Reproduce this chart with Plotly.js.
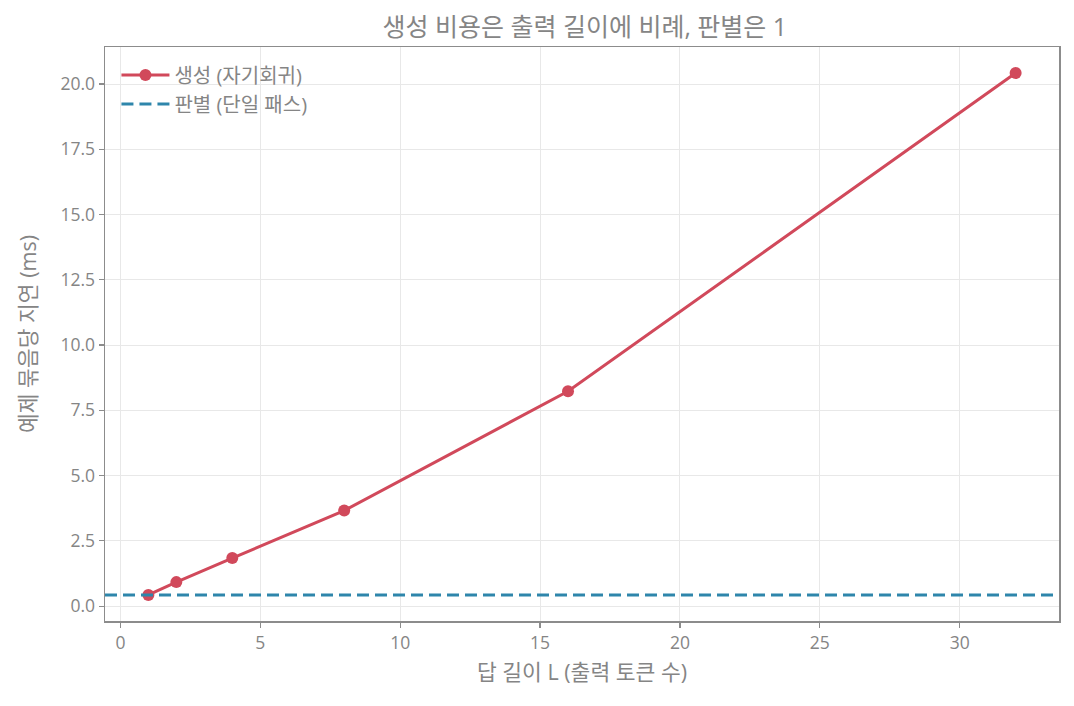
<!DOCTYPE html>
<html>
<head>
<meta charset="utf-8">
<script src="https://cdn.plot.ly/plotly-3.0.1.min.js"></script>
<style>
  html, body { margin: 0; padding: 0; background: #fff; }
  #chart { width: 1074px; height: 706px; }
</style>
</head>
<body>
<div id="chart"></div>
<script>
// answer length L (output tokens)
var lengths = [1, 2, 4, 8, 16, 32];
// generation latency per batch (ms)
var genLatency = [0.43, 0.92, 1.84, 3.66, 8.23, 20.42];
// discrimination: single pass
var discLatency = 0.43;

var xTicks = [0, 5, 10, 15, 20, 25, 30];
var yTicks = [0, 2.5, 5, 7.5, 10, 12.5, 15, 17.5, 20];

var FONT = '"Open Sans", "Noto Sans CJK KR", sans-serif';
var GREY = '#858585';

// matplotlib-like 5% padding
var xMin = Math.min.apply(null, lengths), xMax = Math.max.apply(null, lengths);
var xPad = (xMax - xMin) * 0.05;
var xRange = [xMin - xPad, xMax + xPad];
var yMin = Math.min(discLatency, Math.min.apply(null, genLatency));
var yMax = Math.max.apply(null, genLatency);
var yPad = (yMax - yMin) * 0.05;

var genTrace = {
    x: lengths,
    y: genLatency,
    mode: 'lines+markers',
    name: '생성 (자기회귀)',
    line: {color: '#d1495b', width: 3},
    marker: {color: '#d1495b', size: 12},
    type: 'scatter'
};

var discTrace = {
    x: xRange,
    y: [discLatency, discLatency],
    mode: 'lines',
    name: '판별 (단일 패스)',
    line: {color: '#2e86ab', width: 3, dash: '12px,6px'},
    type: 'scatter'
};

var axisCommon = {
    showline: true,
    mirror: true,
    linecolor: '#8c8c8c',
    linewidth: 1.5,
    ticks: 'outside',
    ticklen: 5,
    tickwidth: 1.2,
    tickcolor: '#8c8c8c',
    showgrid: true,
    gridcolor: '#e8e8e8',
    gridwidth: 1,
    zeroline: false,
    tickfont: {family: FONT, size: 17.5, color: GREY}
};

var layout = {
    width: 1074,
    height: 706,
    paper_bgcolor: '#fff',
    plot_bgcolor: '#fff',
    margin: {l: 105, r: 15, t: 47, b: 85},
    font: {family: FONT, color: GREY},
    title: {
        text: '생성 비용은 출력 길이에 비례, 판별은 1',
        font: {family: FONT, size: 25, color: GREY},
        x: 0.5445, xanchor: 'center',
        y: 0.962, yanchor: 'middle'
    },
    xaxis: Object.assign({}, axisCommon, {
        range: xRange,
        tickvals: xTicks,
        title: {text: '답 길이 L (출력 토큰 수)', font: {family: FONT, size: 21.5, color: GREY}, standoff: 12}
    }),
    yaxis: Object.assign({}, axisCommon, {
        range: [yMin - yPad, yMax + yPad],
        tickvals: yTicks,
        tickformat: '.1f',
        title: {text: '예제 묶음당 지연 (ms)', font: {family: FONT, size: 21.5, color: GREY}, standoff: 18}
    }),
    legend: {
        x: 0.012, y: 0.985,
        xanchor: 'left', yanchor: 'top',
        bgcolor: 'rgba(255,255,255,0)',
        borderwidth: 0,
        itemwidth: 48,
        font: {family: FONT, size: 20, color: GREY},
        tracegroupgap: 0
    },
    showlegend: true
};

Plotly.newPlot('chart', [genTrace, discTrace], layout, {displayModeBar: false, staticPlot: true});
</script>
</body>
</html>
